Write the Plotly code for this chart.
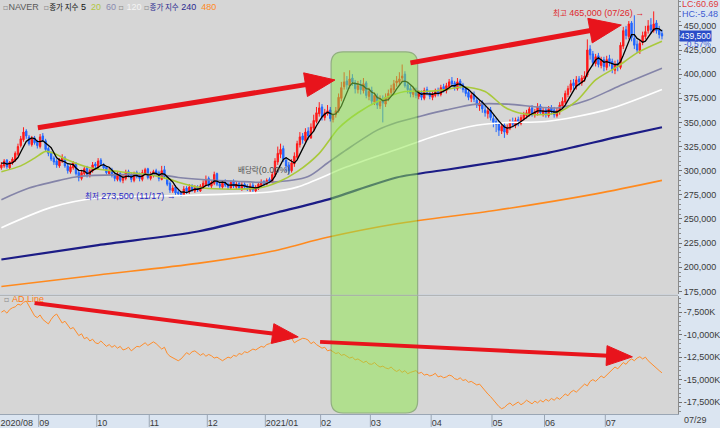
import math
import pandas as pd
import plotly.graph_objects as go

# ---------------- data (prices in KRW thousand, one entry per trading day) ----------------
PRE_CLOSE = [308, 310, 305, 309]
OPEN = [
    303, 305, 311, 303, 308, 311, 317, 326, 332, 341,
    335, 327, 334, 330, 325, 336, 331, 323, 318, 313,
    310, 305, 310, 313, 305, 299, 303, 307, 298, 292,
    297, 303, 295, 300, 307, 304, 311, 306, 304, 297,
    301, 296, 291, 297, 290, 292, 299, 296, 290, 298,
    295, 291, 297, 302, 292, 295, 300, 298, 291, 301,
    293, 287, 279, 283, 278, 277, 275, 282, 278, 284,
    279, 283, 279, 283, 286, 292, 284, 287, 297, 286,
    283, 288, 286, 282, 289, 283, 287, 281, 286, 284,
    280, 285, 279, 282, 285, 289, 286, 291, 288, 296,
    309, 317, 323, 311, 306, 300, 307, 314, 327, 336,
    331, 341, 334, 344, 351, 359, 366, 355, 359, 363,
    353, 358, 362, 375, 387, 393, 388, 396, 391, 384,
    389, 383, 391, 377, 383, 371, 377, 367, 375, 369,
    375, 381, 384, 391, 392, 396, 400, 389, 385, 379,
    383, 377, 381, 375, 384, 380, 376, 378, 383, 379,
    387, 383, 387, 393, 391, 385, 393, 389, 385, 381,
    375, 379, 373, 367, 371, 363, 359, 363, 354, 351,
    349, 341, 347, 339, 344, 351, 347, 353, 349, 354,
    357, 359, 365, 358, 360, 367, 359, 363, 357, 365,
    363, 357, 361, 367, 371, 379, 384, 391, 387, 395,
    391, 395, 399, 426, 421, 411, 419, 409, 415, 407,
    416, 413, 404, 411, 407, 429, 446, 439, 453, 437,
    431, 424, 433, 439, 445, 451, 445, 453, 446, 442,
]
HIGH = [
    309, 312, 312, 310, 314, 320, 328, 336, 345, 343,
    337, 336, 336, 332, 338, 339, 333, 325, 320, 315,
    312, 313, 317, 315, 307, 306, 310, 309, 300, 301,
    304, 305, 302, 309, 309, 313, 313, 308, 305, 303,
    303, 299, 299, 299, 296, 301, 301, 298, 299, 300,
    298, 301, 303, 303, 299, 301, 302, 300, 305, 305,
    294, 289, 285, 285, 281, 279, 284, 284, 286, 286,
    285, 285, 286, 290, 295, 294, 290, 299, 298, 288,
    290, 291, 288, 290, 291, 289, 289, 288, 288, 286,
    287, 288, 285, 288, 291, 290, 292, 293, 299, 313,
    325, 328, 326, 314, 309, 312, 319, 331, 340, 339,
    344, 345, 349, 358, 366, 371, 369, 364, 368, 366,
    360, 366, 380, 392, 402, 398, 404, 400, 394, 393,
    394, 396, 393, 386, 387, 381, 380, 378, 378, 380,
    384, 389, 394, 398, 402, 410, 403, 392, 388, 386,
    386, 383, 383, 386, 387, 383, 382, 385, 386, 389,
    390, 391, 395, 397, 393, 396, 395, 391, 387, 384,
    381, 382, 376, 373, 373, 367, 366, 366, 358, 355,
    352, 350, 350, 348, 353, 355, 355, 356, 358, 361,
    363, 367, 368, 364, 370, 369, 365, 366, 367, 368,
    366, 365, 371, 376, 383, 388, 394, 395, 398, 398,
    399, 403, 436, 430, 424, 421, 422, 418, 418, 419,
    420, 416, 414, 415, 433, 449, 450, 455, 455, 461,
    435, 436, 444, 450, 456, 458, 465, 456, 450, 446,
]
LOW = [
    301, 303, 302, 301, 306, 309, 315, 324, 330, 333,
    326, 325, 327, 323, 323, 330, 320, 315, 310, 306,
    303, 303, 308, 303, 297, 297, 301, 295, 289, 290,
    295, 293, 293, 298, 302, 302, 305, 301, 296, 295,
    293, 289, 289, 288, 287, 290, 293, 288, 288, 292,
    289, 289, 295, 291, 290, 293, 295, 289, 290, 292,
    284, 277, 277, 275, 274, 273.5, 274, 276, 276, 278,
    277, 278, 278, 281, 284, 283, 282, 285, 284, 281,
    281, 283, 280, 280, 282, 281, 280, 279, 281, 279,
    278, 278, 277, 280, 283, 284, 285, 287, 287, 294,
    306, 313, 309, 299, 296, 298, 304, 312, 324, 328,
    329, 332, 333, 341, 349, 356, 352, 352, 357, 351,
    350, 355, 360, 372, 384, 384, 385, 388, 380, 380,
    379, 380, 375, 373, 368, 368, 364, 364, 350, 366,
    372, 378, 381, 387, 388, 392, 386, 380, 376, 376,
    375, 374, 373, 373, 378, 374, 373, 376, 377, 377,
    381, 380, 385, 387, 383, 383, 385, 381, 377, 373,
    371, 371, 365, 362, 360, 356, 354, 352, 345, 340,
    336, 338, 334, 337, 342, 345, 344, 346, 347, 352,
    354, 356, 356, 355, 357, 358, 356, 355, 355, 358,
    355, 355, 358, 364, 369, 376, 381, 384, 384, 388,
    388, 392, 397, 415, 408, 408, 407, 406, 403, 404,
    408, 401, 400, 403, 405, 426, 436, 436, 434, 426,
    422, 421, 430, 436, 442, 442, 443, 442, 437, 436,
]
CLOSE = [
    306, 310, 304, 309, 312, 318, 325, 333, 340, 336,
    328, 333, 329, 326, 335, 332, 322, 318, 312, 309,
    306, 311, 314, 305, 300, 304, 308, 297, 293, 298,
    302, 296, 300, 306, 305, 310, 307, 303, 298, 300,
    295, 292, 296, 290, 293, 298, 295, 291, 297, 294,
    292, 298, 301, 293, 296, 299, 297, 292, 300, 294,
    286, 280, 282, 277, 276, 274, 281, 279, 283, 280,
    282, 280, 284, 287, 291, 285, 288, 296, 286, 284,
    287, 285, 283, 288, 284, 286, 282, 285, 283, 281,
    284, 280, 283, 286, 288, 287, 290, 289, 296, 310,
    318, 322, 312, 305, 300, 308, 315, 328, 335, 332,
    340, 336, 345, 352, 360, 365, 356, 360, 362, 354,
    357, 362, 376, 386, 392, 389, 395, 392, 385, 388,
    384, 390, 378, 382, 372, 378, 368, 374, 370, 376,
    380, 385, 390, 393, 395, 398, 388, 384, 380, 382,
    378, 380, 376, 383, 381, 377, 379, 382, 380, 386,
    384, 388, 392, 390, 386, 392, 388, 384, 380, 376,
    378, 374, 368, 370, 364, 360, 362, 355, 350, 348,
    342, 346, 340, 345, 350, 348, 352, 350, 355, 358,
    360, 364, 359, 361, 366, 360, 362, 358, 364, 362,
    358, 362, 368, 372, 380, 385, 390, 388, 394, 392,
    396, 398, 425, 420, 412, 418, 410, 414, 408, 415,
    412, 405, 410, 408, 430, 445, 440, 452, 438, 430,
    425, 432, 440, 444, 450, 446, 452, 445, 441, 439.5,
]
# Accumulation/Distribution line (thousand shares)
AD_LINE = [
    -7500, -7300, -7600, -7200, -7000, -6900, -6600, -6700, -6400, -6250,
    -6800, -7400, -7900, -8100, -7800, -8300, -8600, -8800, -8300, -7900,
    -7700, -8200, -8700, -8500, -9000, -9350, -9200, -9700, -10100, -9900,
    -10450, -10300, -10700, -10500, -10900, -11000, -10700, -11000, -11300, -11100,
    -11400, -11200, -11500, -11300, -11700, -11600, -11400, -11800, -11500, -11300,
    -11350, -11100, -10900, -11200, -11000, -10800, -11000, -11300, -11600, -11400,
    -12100, -12400, -12600, -12800, -12900, -12700, -12300, -12000, -12200, -11900,
    -11800, -12000, -12300, -12100, -12400, -12200, -12350, -12600, -12500, -12700,
    -12900, -12700, -12500, -12600, -12300, -12400, -12100, -12200, -11900, -12000,
    -11800, -11600, -11700, -11500, -11300, -11400, -11100, -11000, -10800, -10700,
    -10450, -10300, -10100, -10000, -9900, -10400, -10900, -10700, -10500, -10400,
    -10450, -10600, -11000, -10800, -11100, -11300, -11500, -11400, -11800, -11700,
    -11900, -12100, -12000, -12300, -12200, -12450, -12600, -12500, -12800, -12700,
    -12900, -13100, -12950, -13250, -13300, -13100, -13400, -13600, -13500, -13700,
    -13800, -13600, -13900, -14100, -13900, -14200, -14000, -14350, -14200, -14100,
    -14000, -14300, -14200, -14500, -14400, -14600, -14500, -14300, -14700, -14600,
    -14800, -14700, -14500, -14600, -14900, -15000, -14800, -15100, -15000, -15300,
    -15200, -15400, -15600, -15500, -15900, -16200, -16600, -16900, -17300, -17700,
    -18000, -18250, -18100, -17800, -17600, -17900, -17700, -17500, -17800, -17600,
    -17300, -17500, -17700, -17400, -17600, -17300, -17500, -17200, -17400, -17100,
    -17300, -17000, -17200, -16900, -16600, -16800, -16400, -16200, -16400, -16100,
    -15800, -15500, -15700, -15200, -15000, -15200, -14900, -14600, -14800, -14500,
    -14200, -13900, -13600, -13800, -13400, -13100, -13300, -12900, -12700, -12900,
    -12600, -12450, -12700, -12500, -12900, -13200, -13500, -13800, -14000, -14250,
]
# long moving averages (day index, KRW thousand)
MA20_X = [0, 7, 12, 16, 19, 24, 32, 43, 53, 61, 64, 73, 93, 100, 107, 115, 122, 129, 137, 146, 153, 161, 167, 175, 182, 187, 194, 201, 208, 215, 223, 230, 239]
MA20_V = [299, 305, 313, 320, 318, 311, 303, 299, 296, 291, 288, 282, 282, 288, 299, 318, 344, 360, 373, 382, 382, 384, 387, 382, 366, 360, 358, 360, 372, 394, 408, 422, 434]
MA60_X = [0, 10, 21, 28, 57, 64, 85, 97, 111, 118, 125, 136, 143, 151, 161, 172, 183, 201, 212, 223, 239]
MA60_V = [270, 282, 290, 294, 296, 293, 289, 288, 294, 308, 322, 342, 350, 356, 363, 369, 369, 365, 373, 387, 406]
MA120_X = [0, 18, 35, 61, 97, 107, 125, 143, 158, 172, 183, 197, 219, 239]
MA120_V = [241, 262, 272, 274, 278, 283, 304, 322, 337, 347, 350, 351, 363, 384]
MA240_X = [0, 35, 71, 100, 118, 143, 161, 179, 197, 223, 239]
MA240_V = [208, 223, 237, 257, 270, 293, 301, 309, 318, 335, 345]
MA480_X = [0, 35, 71, 97, 118, 143, 179, 215, 239]
MA480_V = [180, 192, 204, 216, 231, 245, 259, 276, 290]

MONTH_IDX = [0, 14, 35, 54, 75, 96, 116, 134, 156, 178, 197, 219]
MONTH_LABELS = ["2020/08", "09", "10", "11", "12", "2021/01", "02", "03", "04", "05", "06", "07"]
PRICE_TICKS = list(range(175000, 450001, 25000))
AD_TICKS = [-7500, -10000, -12500, -15000, -17500]

K = 1000
days = list(range(len(CLOSE)))
o = [v * K for v in OPEN]
h = [v * K for v in HIGH]
l = [v * K for v in LOW]
c = [v * K for v in CLOSE]
ma5 = (pd.Series(PRE_CLOSE + CLOSE).rolling(5).mean() * K).tolist()[len(PRE_CLOSE):]

# ---------------- geometry ----------------
FIG_W, FIG_H = 720, 428
M_L, M_R, M_T, M_B = 0, 38, 0, 13
PW, PH = FIG_W - M_L - M_R, FIG_H - M_T - M_B
TOP_PX = (0, 295)
BOT_PX = (297, 415)
XR = [-0.5, 244.8]
YR_P = [172000, 476800]
YR_A = [-18833, -5722]


def to_px(idx, val, panel):
    x = (idx - XR[0]) / (XR[1] - XR[0]) * PW
    (r0, r1), (p0, p1) = (YR_P, TOP_PX) if panel == "top" else (YR_A, BOT_PX)
    y = p0 + (r1 - val) / (r1 - r0) * (p1 - p0)
    return x, y


def pp(x, y):
    return x / PW, 1 - y / PH


fig = go.Figure()

NFONT = "Liberation Sans Narrow, Liberation Sans, sans-serif"
KFONT = "Noto Sans CJK KR, Liberation Sans, sans-serif"


def nspan(text, color, size=9):
    return (f"<span style='font-family:Liberation Sans Narrow, Liberation Sans;"
            f"font-size:{size}px;color:{color}'>{text}</span>")


def kspan(text, color, size=7.5):
    return (f"<span style='font-family:Noto Sans CJK KR;font-size:{size}px;color:{color}'>{text}</span>")


# long MAs
for xs, vs, col, w in [
    (MA480_X, MA480_V, "#ff8a1e", 1.6),
    (MA240_X, MA240_V, "#1c1c86", 2.2),
    (MA120_X, MA120_V, "#ffffff", 1.6),
    (MA60_X, MA60_V, "#8484a8", 1.6),
]:
    fig.add_trace(go.Scatter(x=xs, y=[v * K for v in vs], mode="lines",
                             line=dict(color=col, width=w, shape="spline", smoothing=0.8),
                             hoverinfo="skip", xaxis="x", yaxis="y"))

fig.add_trace(go.Candlestick(
    x=days, open=o, high=h, low=l, close=c, xaxis="x", yaxis="y",
    increasing=dict(line=dict(color="#ff1a1a", width=1), fillcolor="#ff1a1a"),
    decreasing=dict(line=dict(color="#2266ff", width=1), fillcolor="#2266ff"),
    whiskerwidth=0,
))

fig.add_trace(go.Scatter(x=MA20_X, y=[v * K for v in MA20_V], mode="lines",
                         line=dict(color="#a9c93a", width=1.6, shape="spline", smoothing=0.8),
                         hoverinfo="skip", xaxis="x", yaxis="y"))
fig.add_trace(go.Scatter(x=days, y=ma5, mode="lines", line=dict(color="#000000", width=1.3),
                         hoverinfo="skip", xaxis="x", yaxis="y"))

fig.add_trace(go.Scatter(x=days, y=AD_LINE, mode="lines", line=dict(color="#ff8c2a", width=1),
                         hoverinfo="skip", xaxis="x2", yaxis="y2"))

# ---------------- highlight box ----------------
bx0, _ = to_px(119.3, 0, "top")
bx1, _ = to_px(150.6, 0, "top")
by0, by1 = 52, 414
r = 12
rx, ry = r / PW, r / PH
X0, Y0 = pp(bx0, by1)
X1, Y1 = pp(bx1, by0)
box_path = (f"M{X0 + rx},{Y0} L{X1 - rx},{Y0} Q{X1},{Y0} {X1},{Y0 + ry} "
            f"L{X1},{Y1 - ry} Q{X1},{Y1} {X1 - rx},{Y1} L{X0 + rx},{Y1} "
            f"Q{X0},{Y1} {X0},{Y1 - ry} L{X0},{Y0 + ry} Q{X0},{Y0} {X0 + rx},{Y0} Z")
fig.add_shape(type="path", path=box_path, xref="paper", yref="paper",
              fillcolor="#8ee84a", opacity=0.5, line=dict(color="#4f8a2e", width=1.2), layer="above")

# ---------------- red arrows ----------------
RED = "#e8141c"


def add_arrow(tail, head, panel, width, hl, hw):
    x0, y0 = to_px(*tail, panel)
    x1, y1 = to_px(*head, panel)
    d = math.hypot(x1 - x0, y1 - y0)
    ux, uy = (x1 - x0) / d, (y1 - y0) / d
    nx, ny = -uy, ux
    bx, by = x1 - ux * hl, y1 - uy * hl
    lx, ly = x1 - ux * (hl - 2), y1 - uy * (hl - 2)
    a, b = pp(x0, y0)
    e, f = pp(lx, ly)
    fig.add_shape(type="line", xref="paper", yref="paper", x0=a, y0=b, x1=e, y1=f,
                  line=dict(color=RED, width=width), layer="above")
    p1 = pp(x1, y1)
    p2 = pp(bx + nx * hw / 2, by + ny * hw / 2)
    p3 = pp(bx - nx * hw / 2, by - ny * hw / 2)
    fig.add_shape(type="path", xref="paper", yref="paper",
                  path=f"M{p1[0]},{p1[1]} L{p2[0]},{p2[1]} L{p3[0]},{p3[1]} Z",
                  fillcolor=RED, line=dict(color=RED, width=1), layer="above")


add_arrow((13.2, 344500), (120.7, 394000), "top", 5, 30, 24)
add_arrow((148.0, 411700), (224.3, 450900), "top", 5, 32, 25)
add_arrow((12.0, -6467), (107.4, -10244), "bot", 4, 26, 20)
add_arrow((115.3, -10800), (228.3, -12467), "bot", 4, 26, 20)

# ---------------- month separators in the date band ----------------
for m in MONTH_IDX[1:]:
    fig.add_shape(type="line", xref="x2", yref="paper", x0=m - 0.5, x1=m - 0.5,
                  y0=0, y1=-M_B / PH, line=dict(color="#9aa6b4", width=1))
fig.add_shape(type="line", xref="paper", yref="paper", x0=0, x1=1, y0=(PH - 296) / PH, y1=(PH - 296) / PH,
              line=dict(color="#a8a8a8", width=1))

# ---------------- texts ----------------
SQ = "<span style='font-family:DejaVu Sans;font-size:8px;color:#8a8a8a'>▫</span>"
SP = "&nbsp;"
legend_text = (SQ + nspan("NAVER", "#5a5a5a") + SP + SP + SQ + kspan("종가 지수", "#111") + nspan(" 5", "#111")
               + SP + SP + nspan("20", "#b2c640") + SP + SP + nspan("60", "#8a8ab0") + SP
               + SQ + SP + nspan("120", "#f4f4f4") + SP + SQ + kspan("종가 지수", "#2a2a90")
               + nspan(" 240", "#2a2a90") + SP + SP + nspan("480", "#ff8a1e"))
ann = []
ann.append(dict(xref="paper", yref="paper", x=1 / PW, y=1 - 7 / PH, xanchor="left", yanchor="middle",
                showarrow=False, font=dict(family=NFONT, size=9), text=legend_text))
ann.append(dict(xref="paper", yref="paper", x=2 / PW, y=1 - 300 / PH, xanchor="left", yanchor="middle",
                showarrow=False, font=dict(family=NFONT, size=9),
                text=SQ + SP + nspan("AD Line", "#ff7a10")))
ann.append(dict(xref="x", yref="y", x=233.4, y=463500, xanchor="right", yanchor="middle",
                showarrow=False, font=dict(family=NFONT, size=9, color="#e0282c"),
                text=kspan("최고", "#e0282c") + nspan(" 465,000 (07/26) →", "#e0282c")))
ann.append(dict(xref="x", yref="y", x=63.9, y=274300, xanchor="right", yanchor="middle",
                showarrow=False, font=dict(family=NFONT, size=9, color="#2828c8"),
                text=kspan("최저", "#2828c8") + nspan(" 273,500 (11/17) →", "#2828c8")))
ann.append(dict(xref="x", yref="y", x=84.8, y=301000, xanchor="left", yanchor="middle",
                showarrow=False, font=dict(family=NFONT, size=9, color="#505050"),
                text=kspan("배당락", "#505050") + nspan("(0.00%)", "#505050")))
ann.append(dict(xref="paper", yref="paper", x=684 / PW, y=1 - 4 / PH, xanchor="left", yanchor="middle",
                showarrow=False, font=dict(family=NFONT, size=9, color="#e03c3c"), text="LC:60.69"))
ann.append(dict(xref="paper", yref="paper", x=684 / PW, y=1 - 14 / PH, xanchor="left", yanchor="middle",
                showarrow=False, font=dict(family=NFONT, size=9, color="#3c5ad2"), text="HC:-5.48"))
ann.append(dict(xref="paper", yref="y", x=683 / PW, y=CLOSE[-1] * K, xanchor="left", yanchor="middle",
                showarrow=False, font=dict(family=NFONT, size=8.5, color="#ffffff"), text="439,500",
                bgcolor="#2a4cc8", borderpad=0))
ann.append(dict(xref="paper", yref="paper", x=686 / PW, y=1 - 44.5 / PH, xanchor="left", yanchor="middle",
                showarrow=False, font=dict(family=NFONT, size=8.5, color="#3c5ad2"), text="-0.57%"))
ann.append(dict(xref="paper", yref="paper", x=686 / PW, y=-6.5 / PH, xanchor="left", yanchor="middle",
                showarrow=False, font=dict(family=NFONT, size=9, color="#404040"), text="07/29"))

axis_font = dict(family=NFONT, size=9, color="#3a3a3a")
fig.update_layout(
    width=FIG_W, height=FIG_H,
    margin=dict(l=M_L, r=M_R, t=M_T, b=M_B, pad=0),
    paper_bgcolor="#dbe5f1", plot_bgcolor="#d6d6d6",
    showlegend=False, annotations=ann,
    xaxis=dict(domain=[0, 1], anchor="y", range=XR, showticklabels=False, showgrid=False,
               zeroline=False, rangeslider=dict(visible=False), matches="x2", ticks=""),
    xaxis2=dict(domain=[0, 1], anchor="y2", range=XR, showgrid=False, zeroline=False,
                tickvals=[m - 0.5 for m in MONTH_IDX], ticktext=MONTH_LABELS, ticks="",
                ticklabelposition="outside right", tickfont=dict(family=NFONT, size=9, color="#3a3a3a"),
                showline=True, linecolor="#9aa6b4", rangeslider=dict(visible=False)),
    yaxis=dict(domain=[(PH - TOP_PX[1]) / PH, 1], side="right", range=YR_P, showgrid=False, zeroline=False,
               tickvals=PRICE_TICKS, ticktext=[f"{v:,}" for v in PRICE_TICKS], tickfont=axis_font,
               ticks="outside", ticklen=3, tickcolor="#707070", showline=True, linecolor="#8a8a8a",
               minor=dict(ticks="outside", ticklen=2, dtick=5000, tickcolor="#8a8a8a")),
    yaxis2=dict(domain=[0, (PH - BOT_PX[0]) / PH], side="right", range=YR_A, showgrid=False, zeroline=False,
                tickvals=AD_TICKS, ticktext=[f"{v:,}K" for v in AD_TICKS], tickfont=axis_font,
                ticks="outside", ticklen=3, tickcolor="#707070", showline=True, linecolor="#8a8a8a",
                minor=dict(ticks="outside", ticklen=2, dtick=500, tickcolor="#8a8a8a")),
)

fig.write_html("out.html", config={"displayModeBar": False},
               post_script="document.body.style.margin='0';")
